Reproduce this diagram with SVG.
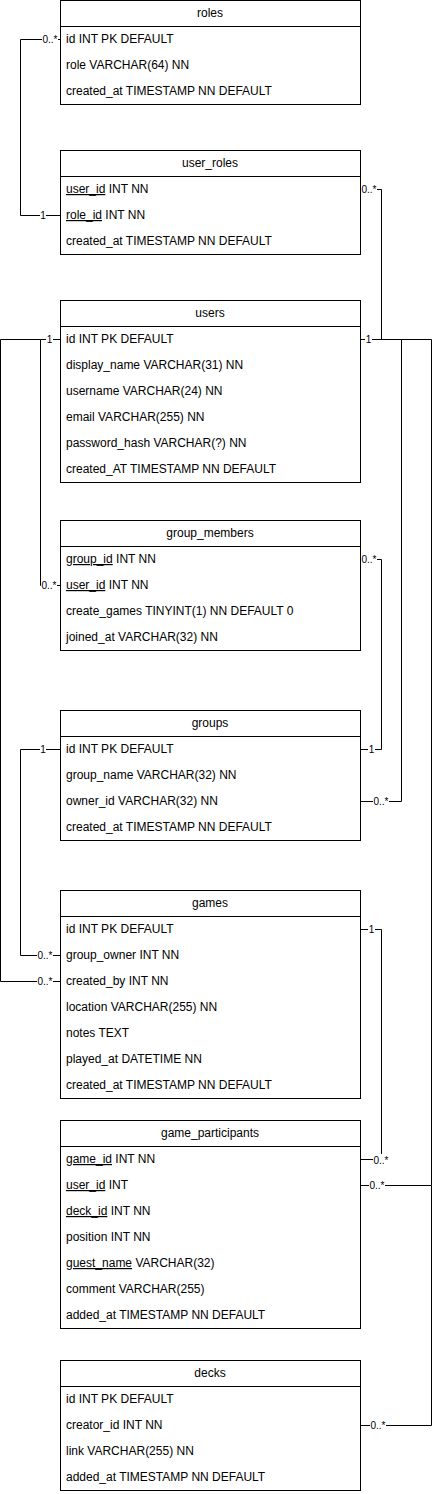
<svg xmlns="http://www.w3.org/2000/svg" width="432" height="1494" viewBox="0 0 432 1494">
<style>
.box{fill:#ffffff;stroke:#000000;stroke-width:1}
.sep{stroke:#000000;stroke-width:1}
.hd{font-family:"Liberation Sans",Arial,sans-serif;font-size:12px;fill:#000000;text-anchor:middle}
.f{font-family:"Liberation Sans",Arial,sans-serif;font-size:12px;fill:#000000}
.u{text-decoration:underline}
.edge{fill:none;stroke:#000000;stroke-width:1}
.lb{font-family:"Liberation Sans",Arial,sans-serif;font-size:10px;fill:#000000;text-anchor:middle}
.lbg{fill:#ffffff}
</style>
<rect width="432" height="1494" fill="#ffffff"/>
<g id="connectors">
<path class="edge" d="M60.5,39.5 H20.5 V215.5 H60.5"/>
<path class="edge" d="M360.5,189.5 H381.5 V339.5 H360.5"/>
<path class="edge" d="M360.5,339.5 H401.5 V801.5 H360.5"/>
<path class="edge" d="M360.5,339.5 H431.5 V1185.5 H360.5"/>
<path class="edge" d="M431.5,1185.5 V1425.5 H360.5"/>
<path class="edge" d="M60.5,339.5 H40.5 V585.5 H60.5"/>
<path class="edge" d="M40.5,339.5 H0.5 V981.5 H60.5"/>
<path class="edge" d="M60.5,749.5 H20.5 V955.5 H60.5"/>
<path class="edge" d="M360.5,749.5 H381.5 V559.5 H360.5"/>
<path class="edge" d="M360.5,929.5 H381.5 V1159.5 H360.5"/>
<g>
<rect class="lbg" x="42" y="33" width="16" height="12"/><text class="lb" x="50" y="43">0..*</text>
<rect class="lbg" x="40" y="209" width="6" height="12"/><text class="lb" x="43" y="219">1</text>
<rect class="lbg" x="361" y="183" width="16" height="12"/><text class="lb" x="369" y="193">0..*</text>
<rect class="lbg" x="365" y="333" width="7" height="12"/><text class="lb" x="368.5" y="343">1</text>
<rect class="lbg" x="373" y="795" width="16" height="12"/><text class="lb" x="381" y="805">0..*</text>
<rect class="lbg" x="369" y="1179" width="16" height="12"/><text class="lb" x="377" y="1189">0..*</text>
<rect class="lbg" x="370" y="1419" width="16" height="12"/><text class="lb" x="378" y="1429">0..*</text>
<rect class="lbg" x="46" y="333" width="7" height="12"/><text class="lb" x="49.5" y="343">1</text>
<rect class="lbg" x="41" y="579" width="16" height="12"/><text class="lb" x="49" y="589">0..*</text>
<rect class="lbg" x="37" y="975" width="16" height="12"/><text class="lb" x="45" y="985">0..*</text>
<rect class="lbg" x="40" y="743" width="6" height="12"/><text class="lb" x="43" y="753">1</text>
<rect class="lbg" x="37" y="949" width="16" height="12"/><text class="lb" x="45" y="959">0..*</text>
<rect class="lbg" x="368" y="743" width="7" height="12"/><text class="lb" x="371.5" y="753">1</text>
<rect class="lbg" x="361" y="553" width="16" height="12"/><text class="lb" x="369" y="563">0..*</text>
<rect class="lbg" x="368" y="923" width="7" height="12"/><text class="lb" x="371.5" y="933">1</text>
<rect class="lbg" x="373" y="1154" width="16" height="12"/><text class="lb" x="381" y="1164">0..*</text>
</g>
</g>
<g id="roles">
<rect class="box" x="60.5" y="0.5" width="300" height="104"/>
<line class="sep" x1="60.5" y1="26.5" x2="360.5" y2="26.5"/>
<text class="hd" x="210" y="17">roles</text>
<text class="f" x="66" y="43">id INT PK DEFAULT</text>
<text class="f" x="66" y="69">role VARCHAR(64) NN</text>
<text class="f" x="66" y="95">created_at TIMESTAMP NN DEFAULT</text>
</g>
<g id="user_roles">
<rect class="box" x="60.5" y="150.5" width="300" height="104"/>
<line class="sep" x1="60.5" y1="176.5" x2="360.5" y2="176.5"/>
<text class="hd" x="210" y="167">user_roles</text>
<text class="f" x="66" y="193"><tspan class="u">user_id</tspan> INT NN</text>
<text class="f" x="66" y="219"><tspan class="u">role_id</tspan> INT NN</text>
<text class="f" x="66" y="245">created_at TIMESTAMP NN DEFAULT</text>
</g>
<g id="users">
<rect class="box" x="60.5" y="300.5" width="300" height="182"/>
<line class="sep" x1="60.5" y1="326.5" x2="360.5" y2="326.5"/>
<text class="hd" x="210" y="317">users</text>
<text class="f" x="66" y="343">id INT PK DEFAULT</text>
<text class="f" x="66" y="369">display_name VARCHAR(31) NN</text>
<text class="f" x="66" y="395">username VARCHAR(24) NN</text>
<text class="f" x="66" y="421">email VARCHAR(255) NN</text>
<text class="f" x="66" y="447">password_hash VARCHAR(?) NN</text>
<text class="f" x="66" y="473">created_AT TIMESTAMP NN DEFAULT</text>
</g>
<g id="group_members">
<rect class="box" x="60.5" y="520.5" width="300" height="130"/>
<line class="sep" x1="60.5" y1="546.5" x2="360.5" y2="546.5"/>
<text class="hd" x="210" y="537">group_members</text>
<text class="f" x="66" y="563"><tspan class="u">group_id</tspan> INT NN</text>
<text class="f" x="66" y="589"><tspan class="u">user_id</tspan> INT NN</text>
<text class="f" x="66" y="615">create_games TINYINT(1) NN DEFAULT 0</text>
<text class="f" x="66" y="641">joined_at VARCHAR(32) NN</text>
</g>
<g id="groups">
<rect class="box" x="60.5" y="710.5" width="300" height="130"/>
<line class="sep" x1="60.5" y1="736.5" x2="360.5" y2="736.5"/>
<text class="hd" x="210" y="727">groups</text>
<text class="f" x="66" y="753">id INT PK DEFAULT</text>
<text class="f" x="66" y="779">group_name VARCHAR(32) NN</text>
<text class="f" x="66" y="805">owner_id VARCHAR(32) NN</text>
<text class="f" x="66" y="831">created_at TIMESTAMP NN DEFAULT</text>
</g>
<g id="games">
<rect class="box" x="60.5" y="890.5" width="300" height="208"/>
<line class="sep" x1="60.5" y1="916.5" x2="360.5" y2="916.5"/>
<text class="hd" x="210" y="907">games</text>
<text class="f" x="66" y="933">id INT PK DEFAULT</text>
<text class="f" x="66" y="959">group_owner INT NN</text>
<text class="f" x="66" y="985">created_by INT NN</text>
<text class="f" x="66" y="1011">location VARCHAR(255) NN</text>
<text class="f" x="66" y="1037">notes TEXT</text>
<text class="f" x="66" y="1063">played_at DATETIME NN</text>
<text class="f" x="66" y="1089">created_at TIMESTAMP NN DEFAULT</text>
</g>
<g id="game_participants">
<rect class="box" x="60.5" y="1120.5" width="300" height="208"/>
<line class="sep" x1="60.5" y1="1146.5" x2="360.5" y2="1146.5"/>
<text class="hd" x="210" y="1137">game_participants</text>
<text class="f" x="66" y="1163"><tspan class="u">game_id</tspan> INT NN</text>
<text class="f" x="66" y="1189"><tspan class="u">user_id</tspan> INT</text>
<text class="f" x="66" y="1215"><tspan class="u">deck_id</tspan> INT NN</text>
<text class="f" x="66" y="1241">position INT NN</text>
<text class="f" x="66" y="1267"><tspan class="u">guest_name</tspan> VARCHAR(32)</text>
<text class="f" x="66" y="1293">comment VARCHAR(255)</text>
<text class="f" x="66" y="1319">added_at TIMESTAMP NN DEFAULT</text>
</g>
<g id="decks">
<rect class="box" x="60.5" y="1360.5" width="300" height="130"/>
<line class="sep" x1="60.5" y1="1386.5" x2="360.5" y2="1386.5"/>
<text class="hd" x="210" y="1377">decks</text>
<text class="f" x="66" y="1403">id INT PK DEFAULT</text>
<text class="f" x="66" y="1429">creator_id INT NN</text>
<text class="f" x="66" y="1455">link VARCHAR(255) NN</text>
<text class="f" x="66" y="1481">added_at TIMESTAMP NN DEFAULT</text>
</g>
</svg>
